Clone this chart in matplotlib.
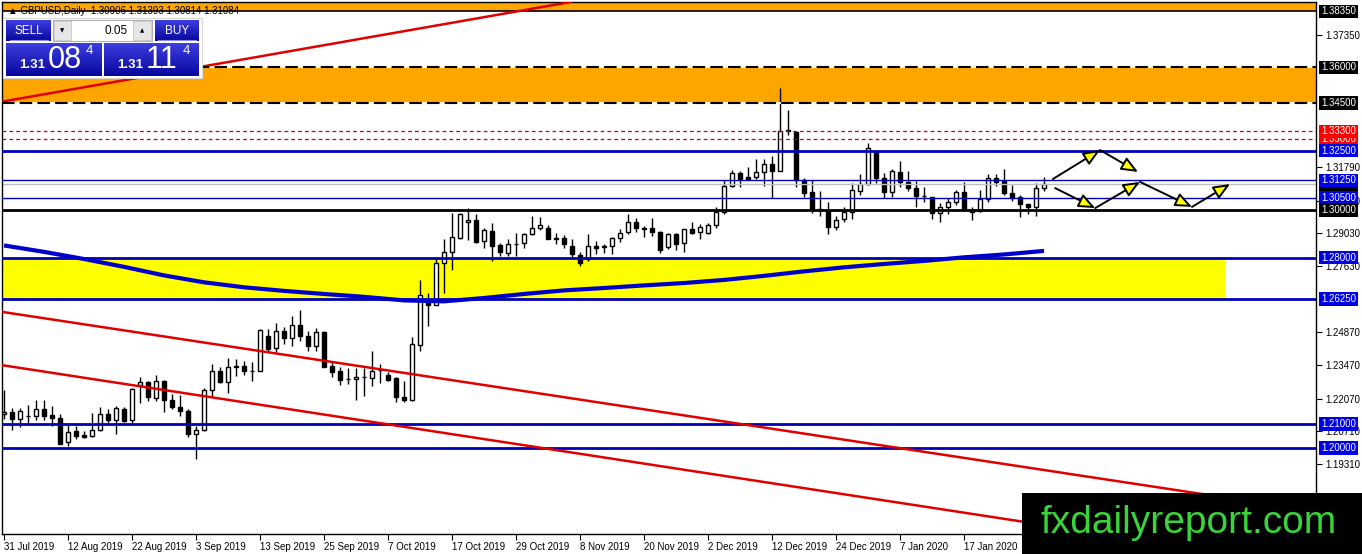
import matplotlib
import numpy as np
import matplotlib.pyplot as plt
from matplotlib.patches import Rectangle

matplotlib.use('Agg')
plt.rcParams['font.family'] = ['Liberation Sans', 'DejaVu Sans']

# --- daily GBPUSD candles, bar 0 = 31 Jul 2019 ---
opens = [
    1.2144, 1.2152, 1.2121, 1.2133, 1.2134, 1.2163, 1.2138, 1.2125, 1.2024, 1.2072,
    1.2055, 1.2050, 1.2075, 1.2142, 1.2117, 1.2164, 1.2117, 1.2266, 1.2276, 1.2208,
    1.2283, 1.2202, 1.2173, 1.2156, 1.2058, 1.2075, 1.2244, 1.2325, 1.2279, 1.2342,
    1.2346, 1.2325, 1.2325, 1.2472, 1.2420, 1.2493, 1.2462, 1.2518, 1.2469, 1.2427,
    1.2489, 1.2346, 1.2322, 1.2288, 1.2290, 1.2297, 1.2295, 1.2328, 1.2307, 1.2293,
    1.2215, 1.2201, 1.2433, 1.2623, 1.2602, 1.2778, 1.2822, 1.2883, 1.2948, 1.2958,
    1.2870, 1.2912, 1.2853, 1.2818, 1.2857, 1.2860, 1.2899, 1.2923, 1.2923, 1.2881,
    1.2881, 1.2850, 1.2811, 1.2794, 1.2850, 1.2846, 1.2850, 1.2881, 1.2906, 1.2951,
    1.2923, 1.2923, 1.2909, 1.2846, 1.2899, 1.2860, 1.2919, 1.2906, 1.2905, 1.2936,
    1.2990, 1.3101, 1.3154, 1.3140, 1.3140, 1.3158, 1.3192, 1.3165, 1.3333, 1.3329,
    1.3126, 1.3074, 1.3002, 1.3000, 1.2930, 1.2961, 1.2990, 1.3081, 1.3108, 1.3242,
    1.3133, 1.3077, 1.3161, 1.3116, 1.3091, 1.3059, 1.3053, 1.2986, 1.3014, 1.3032,
    1.3074, 1.2993, 1.2996, 1.3046, 1.3136, 1.3122, 1.3070, 1.3053, 1.3024, 1.3014,
    1.30906]
highs = [
    1.2245, 1.2167, 1.2167, 1.2181, 1.2203, 1.2202, 1.2176, 1.2142, 1.2097, 1.2092,
    1.2069, 1.2146, 1.2170, 1.2163, 1.2177, 1.2170, 1.2252, 1.2300, 1.2283, 1.2308,
    1.2286, 1.2227, 1.2221, 1.2163, 1.2093, 1.2252, 1.2351, 1.2339, 1.2379, 1.2375,
    1.2365, 1.2361, 1.2500, 1.2500, 1.2524, 1.2507, 1.2556, 1.2578, 1.2493, 1.2504,
    1.2493, 1.2367, 1.2342, 1.2336, 1.2336, 1.2336, 1.2409, 1.2353, 1.2318, 1.2297,
    1.2283, 1.2465, 1.2705, 1.2650, 1.2797, 1.2876, 1.2986, 1.2986, 1.3010, 1.2985,
    1.2923, 1.2946, 1.2860, 1.2876, 1.2903, 1.2905, 1.2975, 1.2969, 1.2935, 1.2902,
    1.2895, 1.2877, 1.2825, 1.2898, 1.2870, 1.2856, 1.2888, 1.2919, 1.2982, 1.2968,
    1.2933, 1.2968, 1.2912, 1.2905, 1.2905, 1.2920, 1.2948, 1.2940, 1.2945, 1.3011,
    1.3126, 1.3168, 1.3165, 1.3182, 1.3213, 1.3213, 1.3227, 1.3511, 1.3420, 1.3330,
    1.3133, 1.3126, 1.3080, 1.3035, 1.2975, 1.3014, 1.3115, 1.3151, 1.3280, 1.3243,
    1.3157, 1.3171, 1.3207, 1.3165, 1.3123, 1.3095, 1.3056, 1.3031, 1.3049, 1.3084,
    1.3119, 1.3014, 1.3084, 1.3151, 1.3151, 1.3171, 1.3105, 1.3063, 1.3025, 1.3115,
    1.31393]
lows = [
    1.2122, 1.2075, 1.2086, 1.2103, 1.2119, 1.2117, 1.2092, 1.2016, 1.2008, 1.2036,
    1.2042, 1.2044, 1.2069, 1.2106, 1.2058, 1.2109, 1.2103, 1.2190, 1.2198, 1.2198,
    1.2152, 1.2163, 1.2135, 1.2044, 1.1954, 1.2072, 1.2212, 1.2274, 1.2229, 1.2304,
    1.2308, 1.2280, 1.2322, 1.2406, 1.2401, 1.2437, 1.2430, 1.2451, 1.2409, 1.2409,
    1.2340, 1.2297, 1.2266, 1.2269, 1.2201, 1.2219, 1.2258, 1.2271, 1.2280, 1.2191,
    1.2191, 1.2199, 1.2407, 1.2514, 1.2599, 1.2653, 1.2747, 1.2878, 1.2873, 1.2862,
    1.2839, 1.2787, 1.2808, 1.2806, 1.2805, 1.2842, 1.2895, 1.2916, 1.2876, 1.2856,
    1.2842, 1.2793, 1.2766, 1.2786, 1.2814, 1.2818, 1.2814, 1.2866, 1.2899, 1.2909,
    1.2885, 1.2891, 1.2821, 1.2835, 1.2832, 1.2825, 1.2899, 1.2877, 1.2900, 1.2923,
    1.2982, 1.3098, 1.3098, 1.3126, 1.3130, 1.3101, 1.3049, 1.3165, 1.3315, 1.3098,
    1.3056, 1.2989, 1.2975, 1.2901, 1.2916, 1.2951, 1.2961, 1.3063, 1.3105, 1.3112,
    1.3052, 1.3056, 1.3095, 1.3080, 1.3011, 1.3035, 1.2961, 1.2951, 1.2982, 1.3021,
    1.3000, 1.2958, 1.2993, 1.3035, 1.3101, 1.3063, 1.3039, 1.2972, 1.2983, 1.2975,
    1.30814]
closes = [
    1.2152, 1.2121, 1.2156, 1.2136, 1.2163, 1.2135, 1.2125, 1.2018, 1.2065, 1.2050,
    1.2046, 1.2075, 1.2142, 1.2117, 1.2167, 1.2114, 1.2248, 1.2277, 1.2212, 1.2283,
    1.2201, 1.2170, 1.2153, 1.2058, 1.2075, 1.2244, 1.2323, 1.2276, 1.2342, 1.2345,
    1.2323, 1.2324, 1.2496, 1.2416, 1.2493, 1.2462, 1.2518, 1.2469, 1.2427, 1.2489,
    1.2342, 1.2318, 1.2286, 1.2289, 1.2300, 1.2298, 1.2325, 1.2329, 1.2286, 1.2212,
    1.2201, 1.2437, 1.2644, 1.2602, 1.2778, 1.2822, 1.2885, 1.2982, 1.2959, 1.2866,
    1.2916, 1.2850, 1.2825, 1.2856, 1.2858, 1.2899, 1.2923, 1.2937, 1.2880, 1.2880,
    1.2856, 1.2814, 1.2776, 1.2850, 1.2842, 1.2847, 1.2881, 1.2902, 1.2951, 1.2923,
    1.2922, 1.2909, 1.2832, 1.2898, 1.2857, 1.2919, 1.2903, 1.2927, 1.2936, 1.2990,
    1.3101, 1.3154, 1.3130, 1.3130, 1.3158, 1.3192, 1.3165, 1.3334, 1.3335, 1.3126,
    1.3073, 1.3000, 1.3006, 1.2930, 1.2958, 1.2993, 1.3084, 1.3109, 1.3259, 1.3133,
    1.3077, 1.3164, 1.3116, 1.3091, 1.3060, 1.3058, 1.2986, 1.3014, 1.3032, 1.3074,
    1.3003, 1.3000, 1.3046, 1.3136, 1.3119, 1.3070, 1.3049, 1.3025, 1.3014, 1.3091,
    1.31084]

# moving average, read every 5 bars
ma_idx = list(range(0, 131, 5))
ma_vals = [1.2851, 1.2824, 1.2794, 1.2761, 1.2725, 1.2696, 1.2675, 1.2660, 1.2647,
           1.2635, 1.2620, 1.2616, 1.2630, 1.2647, 1.2662, 1.2672, 1.2683, 1.2693,
           1.2706, 1.2723, 1.2742, 1.2759, 1.2773, 1.2786, 1.2801, 1.2813, 1.2828]

date_idx = list(range(0, 121, 8))
date_labels = ["31 Jul 2019", "12 Aug 2019", "22 Aug 2019", "3 Sep 2019", "13 Sep 2019",
               "25 Sep 2019", "7 Oct 2019", "17 Oct 2019", "29 Oct 2019", "8 Nov 2019",
               "20 Nov 2019", "2 Dec 2019", "12 Dec 2019", "24 Dec 2019", "7 Jan 2020",
               "17 Jan 2020"]

plain_ticks = [1.3735, 1.3179, 1.3039, 1.2903, 1.2763, 1.2487, 1.2347, 1.2207,
               1.2071, 1.1931, 1.1791]
# (level, box colour) - later ones drawn on top
boxed_levels = [(1.3835, 'black'), (1.3600, 'black'), (1.3450, 'black'),
                (1.3300, '#ff0000'), (1.3330, '#ff0000'), (1.3250, '#0000e6'),
                (1.31084, 'black'), (1.3125, '#0000e6'), (1.3050, '#0000e6'),
                (1.3000, 'black'), (1.2800, '#0000e6'), (1.2625, '#0000e6'),
                (1.2100, '#0000e6'), (1.2000, '#0000e6')]

# trend lines: two anchor points (bar, price)
top_red = ((-0.5, 1.3454), (70.75, 1.3874))
chan_upper = ((-0.5, 1.2573), (147.6, 1.1817))
chan_lower = ((-0.5, 1.2349), (128.25, 1.1685))

# forecast arrows (bar0, price0, bar1, price1)
arrows = [(131.1, 1.3130, 137.0, 1.3252), (137.0, 1.3252, 141.75, 1.3160),
          (131.4, 1.3092, 136.4, 1.3008), (136.4, 1.3008, 142.0, 1.3118),
          (142.0, 1.3118, 148.5, 1.3013), (148.5, 1.3013, 153.25, 1.3109)]

W, H = 1362, 554
LINE_BLUE = '#0000b8'

fig = plt.figure(figsize=(W / 100, H / 100), dpi=100)
ax = fig.add_axes([2 / W, (H - 534) / H, (1316 - 2) / W, (534 - 2) / H])
ax.set_xlim(-0.25, 164)
ax.set_ylim(1.16379, 1.38744)

# zones
ax.axhspan(1.3835, 1.40, color='#ffa500', lw=0, zorder=0.5)
ax.axhspan(1.3450, 1.3600, color='#ffa500', lw=0, zorder=0.5)
ax.add_patch(Rectangle((-1, 1.2625), 153.6, 0.0175, facecolor='#ffff00',
                       edgecolor='none', zorder=0.5))

# candles
o = np.array(opens); h = np.array(highs); l = np.array(lows); c = np.array(closes)
idx = np.arange(len(o))
up = c >= o
ax.vlines(idx, l, h, color='black', lw=1, zorder=2)
bot = np.minimum(o, c)
hgt = np.abs(c - o)
ax.bar(idx[up], hgt[up], bottom=bot[up], width=0.62, facecolor='white',
       edgecolor='black', lw=1, zorder=2.1)
ax.bar(idx[~up], hgt[~up], bottom=bot[~up], width=0.62, facecolor='black',
       edgecolor='black', lw=1, zorder=2.1)

# levels
ax.axhline(1.3835, color='black', lw=1.2, zorder=3)
for lv in (1.3600, 1.3450):
    ax.axhline(lv, color='#fff6cc', lw=1.5, zorder=3)
    ax.axhline(lv, color='black', lw=1.5, dashes=(6, 2.5), zorder=3.1)
for lv in (1.3330, 1.3300):
    ax.axhline(lv, color='#cc0000', lw=0.9, dashes=(3, 2.5), zorder=3)
ax.axhline(1.31084, color='#c0c0c0', lw=1, zorder=2.5)
for lv in (1.3125, 1.3050):
    ax.axhline(lv, color=LINE_BLUE, lw=1, zorder=3)
ax.axhline(1.3000, color='black', lw=2, zorder=3)
for lv in (1.3250, 1.2800, 1.2625, 1.2100, 1.2000):
    ax.axhline(lv, color=LINE_BLUE, lw=2, zorder=3)

for p1, p2 in (top_red, chan_upper, chan_lower):
    ax.axline(p1, p2, color='#e00000', lw=1.8, zorder=3)

ax.plot(ma_idx, ma_vals, color='#0000cc', lw=3, zorder=3.2, solid_capstyle='butt')

for x0, y0, x1, y1 in arrows:
    ax.annotate('', xy=(x1, y1), xytext=(x0, y0), zorder=4,
                arrowprops=dict(arrowstyle='-|>,head_length=1.0,head_width=0.42',
                                fc='#ffff00', ec='black', lw=1.4,
                                shrinkA=0, shrinkB=0))

# axes look
for sp in ax.spines.values():
    sp.set_color('black')
    sp.set_linewidth(1)
ax.yaxis.tick_right()
ax.set_yticks(plain_ticks)
ax.set_yticklabels([f'{v:.5f}' for v in plain_ticks])
ax.tick_params(axis='y', length=4, pad=3, labelsize=7, colors='black')
ax.set_xticks(date_idx)
ax.set_xticklabels(date_labels, ha='left')
ax.tick_params(axis='x', length=4, pad=2, labelsize=7)

ytr = ax.get_yaxis_transform()
for lv, col in boxed_levels:
    ax.text(1 + 5 / 1314, lv, f'{lv:.5f}', transform=ytr, ha='left', va='center',
            fontsize=7, color='white', clip_on=False, zorder=6,
            bbox=dict(boxstyle='square,pad=0.18', fc=col, ec='none'))

# overlay in pixel coordinates: title, trade panel, watermark
ov = fig.add_axes([0, 0, 1, 1], zorder=10)
ov.axis('off')

ov.text(8, 11, '\u25b2 GBPUSD,Daily  1.30906 1.31393 1.30814 1.31084',
        fontsize=7, va='center', ha='left', color='black')

ov.add_patch(Rectangle((3, 18), 199, 60, facecolor='white', edgecolor='#d8d8d8', lw=0.8))


def blue_box(x0, y0, x1, y1):
    grad = np.linspace(0, 1, 40)[:, None, None]
    top = np.array([0.24, 0.24, 0.88])
    bottom = np.array([0.03, 0.03, 0.62])
    img = top * (1 - grad) + bottom * grad
    ov.imshow(img, extent=(x0, x1, y1, y0), origin='upper', aspect='auto',
              interpolation='bilinear', zorder=2)


blue_box(6, 20, 51, 41)
blue_box(155, 20, 199, 41)
blue_box(6, 43, 102, 76)
blue_box(104, 43, 199, 76)
ov.plot([10, 48], [40, 40], color='#8a8ae8', lw=0.8, zorder=3)
ov.plot([158, 196], [40, 40], color='#8a8ae8', lw=0.8, zorder=3)

ov.add_patch(Rectangle((53, 20), 99, 21, facecolor='white', edgecolor='#b0b0b0', lw=0.8, zorder=2))
ov.add_patch(Rectangle((54, 21), 17, 19, facecolor='#e6e6e6', edgecolor='#c8c8c8', lw=0.6, zorder=3))
ov.add_patch(Rectangle((133, 21), 18, 19, facecolor='#e6e6e6', edgecolor='#c8c8c8', lw=0.6, zorder=3))
ov.text(62.5, 30.5, '\u25bc', fontsize=4, ha='center', va='center', family=['DejaVu Sans'], zorder=4)
ov.text(142, 30.5, '\u25b2', fontsize=4, ha='center', va='center', family=['DejaVu Sans'], zorder=4)
ov.text(128, 31, '0.05', fontsize=8.5, ha='right', va='center', color='black', zorder=4)

ov.text(28.5, 31, 'SELL', fontsize=8.5, ha='center', va='center', color='white', zorder=4)
ov.text(177, 31, 'BUY', fontsize=8.5, ha='center', va='center', color='white', zorder=4)

for x_small, x_big, x_sup, big in ((32, 65, 89, '08'), (130, 161, 186, '11')):
    ov.text(x_small, 65, '1.31', fontsize=9.5, fontweight='bold', ha='center',
            va='center', color='white', zorder=4)
    ov.text(x_big, 60, big, fontsize=22, ha='center', va='center', color='white', zorder=4)
    ov.text(x_sup, 51, '4', fontsize=9.5, ha='center', va='center', color='white', zorder=4)

ov.add_patch(Rectangle((1022, 493), 340, 61, facecolor='black', edgecolor='none', zorder=5))
ov.text(1189, 533, 'fxdailyreport.com', fontsize=28, ha='center', va='baseline',
        color='#3ad43a', zorder=6)

ov.set_xlim(0, W)
ov.set_ylim(H, 0)

fig.savefig('out.png', dpi=100)
